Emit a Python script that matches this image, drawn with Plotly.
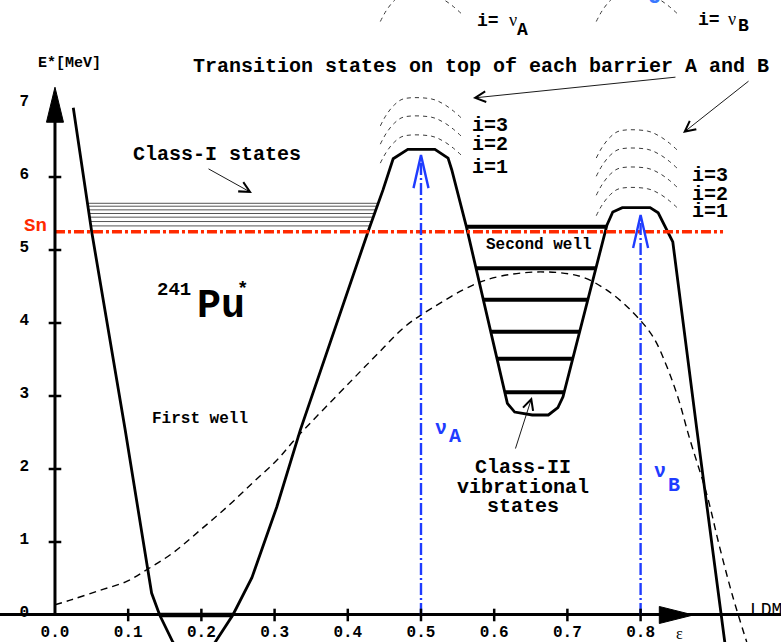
import numpy as np
import plotly.graph_objects as go

# ---- fission barrier of 241Pu* along the elongation (epsilon, MeV) ----
BARRIER_EPS = [0.025, 0.050, 0.096, 0.132, 0.143, 0.161, 0.175, 0.190, 0.205, 0.219,
               0.243, 0.269, 0.303, 0.335, 0.428, 0.448, 0.462, 0.482, 0.519, 0.537,
               0.542, 0.562, 0.618, 0.628, 0.652, 0.674, 0.687, 0.694, 0.754, 0.762,
               0.775, 0.813, 0.824, 0.844, 0.877, 0.911, 0.915, 0.918]
BARRIER_E = [6.95, 5.26, 2.53, 0.30, 0.00, -0.37, -0.55, -0.60, -0.55, -0.37,
             0.00, 0.51, 1.48, 2.53, 5.26, 5.82, 6.25, 6.38, 6.38, 6.26,
             6.10, 5.32, 2.90, 2.78, 2.74, 2.74, 2.84, 2.99, 5.34, 5.52,
             5.58, 5.58, 5.51, 5.11, 2.53, 0.00, -0.37, -0.60]

# liquid-drop-model barrier (dashed)
LDM_EPS = [0.000, 0.023, 0.062, 0.098, 0.127, 0.161, 0.198, 0.235, 0.270, 0.303,
           0.331, 0.403, 0.441, 0.478, 0.516, 0.571, 0.608, 0.663, 0.717, 0.754,
           0.790, 0.817, 0.836, 0.852, 0.866, 0.891, 0.908, 0.926, 0.945]
LDM_E = [0.14, 0.21, 0.34, 0.46, 0.63, 0.85, 1.16, 1.48, 1.81, 2.12,
         2.44, 3.19, 3.58, 3.95, 4.21, 4.52, 4.64, 4.70, 4.64, 4.45,
         4.14, 3.81, 3.40, 2.95, 2.45, 1.63, 0.93, 0.25, -0.37]

SN = 5.25                                            # neutron separation energy
GROUND_E = 0.0
CLASS_I_E = [5.33, 5.39, 5.45, 5.50, 5.55, 5.60, 5.64]
CLASS_II_E = [5.32, 4.75, 4.32, 3.88, 3.51, 3.05]

# barrier heights and positions
BARRIER_POS = {"A": 0.500, "B": 0.800}
BARRIER_V = {"A": 6.30, "B": 5.48}

# transition states on top of each barrier (last one: i = nu)
TS_POS = {"A": 0.495, "B": 0.790}
TS_E = {"A": [6.56, 6.82, 7.07, 8.50], "B": [5.84, 6.12, 6.38, 6.63, 8.50]}

X_TICKS = [0.0, 0.1, 0.2, 0.3, 0.4, 0.5, 0.6, 0.7, 0.8]
X_TICK_TEXT = ["0.0", "0.1", "0.2", "0.3", "0.4", "0.5", "0.6", "0.7", "0.8"]
Y_TICKS = [0, 1, 2, 3, 4, 5, 6, 7]
Y_TICK_TEXT = ["0", "1", "2", "3", "4", "5", "6", "7"]

# ---- frame ----
W, H = 781, 642
EPS_MIN, EPS_MAX = -0.0751, 0.9918
E_MIN, E_MAX = -0.370, 8.425
PX_X = (EPS_MAX - EPS_MIN) / W      # epsilon per pixel
PX_Y = (E_MAX - E_MIN) / H          # MeV per pixel
AXIS_TOP = 7.23
AXIS_RIGHT = 0.872

MONO = "Liberation Mono"
BLACK = "black"
RED = "#ff2a00"
BLUE = "#1f3cff"

bx = np.array(BARRIER_EPS)
be = np.array(BARRIER_E)


def crossing(energy, i0, i1):
    """epsilon where one wall of the barrier (points i0..i1) reaches `energy`."""
    seg_e = be[i0:i1 + 1]
    seg_x = bx[i0:i1 + 1]
    order = np.argsort(seg_e)
    return float(np.interp(energy, seg_e[order], seg_x[order]))


fig = go.Figure()


def line(x, y, color=BLACK, width=1.0, dash="solid", shape="linear"):
    fig.add_trace(go.Scatter(x=list(x), y=list(y), mode="lines",
                             line=dict(color=color, width=width, dash=dash, shape=shape),
                             hoverinfo="skip"))


# liquid drop barrier
line(LDM_EPS, LDM_E, width=1.4, dash="7px,5px", shape="spline")

# class-I states in the first well
for e in CLASS_I_E:
    line([crossing(e, 0, 2), crossing(e, 13, 16)], [e, e], color="#555555", width=1)

# ground state
line([crossing(GROUND_E, 2, 5), crossing(GROUND_E, 8, 11)], [GROUND_E, GROUND_E], width=4.5)

# double-humped barrier
line(BARRIER_EPS, BARRIER_E, width=2.8)

# class-II vibrational states in the second well
for e in CLASS_II_E:
    line([crossing(e, 20, 22), crossing(e, 27, 29)], [e, e], width=4)

# transition-state parabolas above each barrier
ARC_DX = [-37, -31, -23, -14, 14, 26, 36, 45]
ARC_DY = [27, 16, 6, 0, 0, 5, 12, 20]
for key in ("A", "B"):
    for top in TS_E[key]:
        line([TS_POS[key] + dx * PX_X for dx in ARC_DX],
             [top - dy * PX_Y for dy in ARC_DY],
             color="#3a3a3a", width=1, dash="4px,4px", shape="spline")

# neutron separation energy
line([0.0, 0.9126], [SN, SN], color=RED, width=3.5, dash="10px,3px,3px,3px")

# barrier heights
for key in ("A", "B"):
    xc, v = BARRIER_POS[key], BARRIER_V[key]
    line([xc, xc], [0, v], color=BLUE, width=2.4, dash="12px,3px,2px,3px")
    line([xc - 7.5 * PX_X, xc, xc + 7.5 * PX_X], [v - 33 * PX_Y, v, v - 33 * PX_Y],
         color=BLUE, width=2.4)

# energy axis with arrow
line([0, 0], [0, AXIS_TOP - 20 * PX_Y], width=3)
fig.add_trace(go.Scatter(
    x=[-8.5 * PX_X, 8.5 * PX_X, 0, -8.5 * PX_X],
    y=[AXIS_TOP - 35 * PX_Y, AXIS_TOP - 35 * PX_Y, AXIS_TOP, AXIS_TOP - 35 * PX_Y],
    mode="lines", fill="toself", fillcolor=BLACK, line=dict(color=BLACK, width=1),
    hoverinfo="skip"))
# deformation axis arrow
fig.add_trace(go.Scatter(
    x=[AXIS_RIGHT - 34 * PX_X, AXIS_RIGHT - 34 * PX_X, AXIS_RIGHT, AXIS_RIGHT - 34 * PX_X],
    y=[-8.5 * PX_Y, 8.5 * PX_Y, 0, -8.5 * PX_Y],
    mode="lines", fill="toself", fillcolor=BLACK, line=dict(color=BLACK, width=1),
    hoverinfo="skip"))

# tick marks crossing the axes
fig.add_trace(go.Scatter(x=X_TICKS[1:], y=[0] * (len(X_TICKS) - 1), mode="markers",
                         marker=dict(symbol="line-ns", size=9,
                                     line=dict(color=BLACK, width=2.5)),
                         hoverinfo="skip"))
fig.add_trace(go.Scatter(x=[0] * (len(Y_TICKS) - 2), y=Y_TICKS[1:-1], mode="markers",
                         marker=dict(symbol="line-ew", size=9,
                                     line=dict(color=BLACK, width=2.5)),
                         hoverinfo="skip"))

# ---- labels ----
annotations = []


def text(s, x, y, size=20, color=BLACK, xanchor="left", weight="bold", family=MONO,
         yanchor="middle"):
    annotations.append(dict(text=s, x=x, y=y, xref="x", yref="y", showarrow=False,
                            xanchor=xanchor, yanchor=yanchor,
                            font=dict(family=family, size=size, color=color,
                                      weight=weight)))


def arrow(x_head, y_head, x_tail, y_tail):
    annotations.append(dict(x=x_head, y=y_head, ax=x_tail, ay=y_tail, xref="x", yref="y",
                            axref="x", ayref="y", text="", showarrow=True,
                            arrowhead=5, arrowsize=2.3, arrowwidth=0.9,
                            arrowcolor=BLACK, standoff=0))


text("E*[MeV]", 0.0205, 7.56, size=15, xanchor="center")
text("Transition states on top of each barrier A and B", 0.186, 7.52)
text("Class-I states", 0.104, 6.315)
text("Sn", -0.045, 5.33, size=19, color=RED)
text("241", 0.137, 4.45, size=19)
text("Pu", 0.191, 4.22, size=40)
text("*", 0.2568, 4.47, size=19, xanchor="center")
text("First well", 0.130, 2.685, size=16)
text("Second well", 0.586, 5.068, size=16)
for s, y in (("Class-II", 2.014), ("vibrational", 1.753), ("states", 1.493)):
    text(s, 0.640, y, xanchor="center")

text("ν", 0.5273, 2.56, color=BLUE, xanchor="center")
text("A", 0.5464, 2.45, color=BLUE, xanchor="center")
text("ν", 0.8265, 1.96, color=BLUE, xanchor="center")
text("B", 0.8456, 1.77, color=BLUE, xanchor="center")

for s, ya, yb in (("i=3", 6.712, 6.014), ("i=2", 6.452, 5.767), ("i=1", 6.137, 5.521)):
    text(s, 0.567, ya)
    text(s, 0.868, yb)

text("i=", 0.574, 8.137, size=18)
text("ν", 0.6257, 8.151, size=18, weight="normal", family="Liberation Serif", xanchor="center")
text("A", 0.6393, 8.01, size=18, xanchor="center")
text("i=", 0.875, 8.151, size=18)
text("ν", 0.9249, 8.164, size=18, weight="normal", family="Liberation Serif", xanchor="center")
text("B", 0.9399, 8.068, size=18, xanchor="center")
text("J", 0.8197, 8.29, size=22, color="#3a78ff", family="Liberation Sans",
     xanchor="center", yanchor="bottom")

text("ε", 0.8538, -0.26, size=16, weight="normal", family="Liberation Serif",
     xanchor="center")
text("LDM", 0.947, 0.068, size=18, weight="normal")

arrow(0.2691, 5.781, 0.2077, 6.123)
arrow(0.5710, 7.082, 0.8497, 7.370)
arrow(0.8579, 6.603, 0.9495, 7.329)
arrow(0.6516, 2.986, 0.6284, 2.260)

fig.update_layout(
    template="none",
    width=W, height=H,
    margin=dict(l=0, r=0, t=0, b=0),
    paper_bgcolor="white", plot_bgcolor="white",
    showlegend=False,
    annotations=annotations,
    xaxis=dict(range=[EPS_MIN, EPS_MAX], showgrid=False, zeroline=False, showline=False,
               tickmode="array", tickvals=X_TICKS, ticktext=X_TICK_TEXT, ticks="",
               tickfont=dict(family=MONO, size=16, color=BLACK, weight="bold"),
               anchor="free", position=27 / H, automargin=False,
               ticklabelstandoff=5),
    yaxis=dict(range=[E_MIN, E_MAX], showgrid=False, zeroline=True,
               zerolinecolor=BLACK, zerolinewidth=2.5, showline=False,
               tickmode="array", tickvals=Y_TICKS, ticktext=Y_TICK_TEXT, ticks="",
               tickfont=dict(family=MONO, size=16, color=BLACK, weight="bold"),
               anchor="free", position=55 / W, automargin=False,
               ticklabelstandoff=26, ticklabelshift=-4),
)

fig.write_html("out.html")
